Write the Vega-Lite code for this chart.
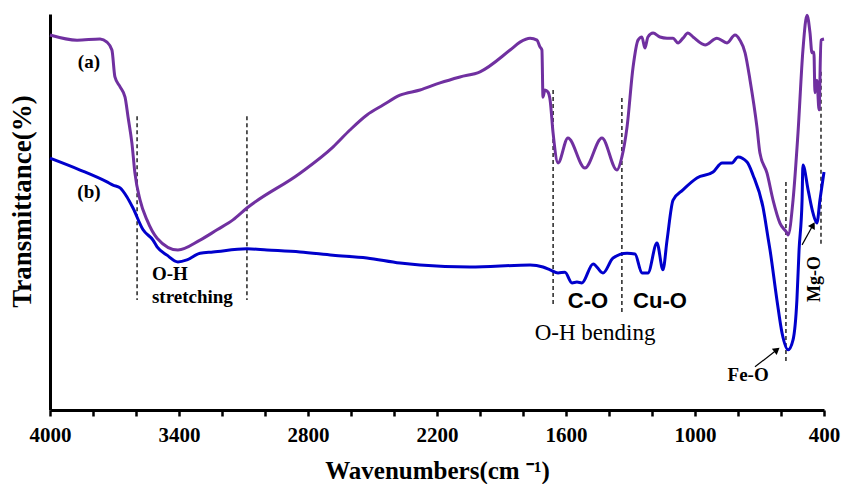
{
  "$schema": "https://vega.github.io/schema/vega-lite/v6.json",
  "width": 774,
  "height": 396,
  "autosize": {"type": "none"},
  "padding": {"left": 50, "top": 14, "right": 18, "bottom": 74},
  "background": "white",
  "config": {"view": {"stroke": null}, "font": "Liberation Serif"},
  "datasets": {
    "spectra": [
      {"s":"a","wn":4000,"t":94.7},{"s":"a","wn":3874,"t":93.4},{"s":"a","wn":3767,"t":93.7},{"s":"a","wn":3735,"t":92.9},{"s":"a","wn":3712,"t":90.9},{"s":"a","wn":3698,"t":84.1},{"s":"a","wn":3674,"t":81.6},{"s":"a","wn":3651,"t":79.0},{"s":"a","wn":3637,"t":74.0},{"s":"a","wn":3619,"t":67.4},{"s":"a","wn":3605,"t":59.8},{"s":"a","wn":3581,"t":53.0},{"s":"a","wn":3549,"t":48.0},{"s":"a","wn":3502,"t":43.4},{"s":"a","wn":3405,"t":40.4},{"s":"a","wn":3302,"t":42.9},{"s":"a","wn":3223,"t":45.5},{"s":"a","wn":3149,"t":48.0},{"s":"a","wn":3084,"t":51.0},{"s":"a","wn":2837,"t":59.8},{"s":"a","wn":2684,"t":66.4},{"s":"a","wn":2605,"t":70.7},{"s":"a","wn":2526,"t":74.5},{"s":"a","wn":2451,"t":77.0},{"s":"a","wn":2372,"t":79.5},{"s":"a","wn":2279,"t":80.8},{"s":"a","wn":2186,"t":82.6},{"s":"a","wn":2093,"t":84.1},{"s":"a","wn":2000,"t":85.4},{"s":"a","wn":1860,"t":90.9},{"s":"a","wn":1814,"t":92.9},{"s":"a","wn":1767,"t":93.9},{"s":"a","wn":1735,"t":93.4},{"s":"a","wn":1721,"t":91.7},{"s":"a","wn":1712,"t":90.9},{"s":"a","wn":1707,"t":79.0},{"s":"a","wn":1698,"t":80.8},{"s":"a","wn":1684,"t":80.3},{"s":"a","wn":1674,"t":78.3},{"s":"a","wn":1660,"t":69.9},{"s":"a","wn":1637,"t":62.4},{"s":"a","wn":1591,"t":68.7},{"s":"a","wn":1512,"t":61.1},{"s":"a","wn":1433,"t":68.7},{"s":"a","wn":1363,"t":60.6},{"s":"a","wn":1340,"t":63.9},{"s":"a","wn":1316,"t":71.5},{"s":"a","wn":1288,"t":86.6},{"s":"a","wn":1265,"t":93.4},{"s":"a","wn":1247,"t":94.2},{"s":"a","wn":1233,"t":91.4},{"s":"a","wn":1219,"t":94.2},{"s":"a","wn":1195,"t":95.2},{"s":"a","wn":1163,"t":94.2},{"s":"a","wn":1130,"t":93.9},{"s":"a","wn":1102,"t":93.9},{"s":"a","wn":1079,"t":92.7},{"s":"a","wn":1056,"t":93.9},{"s":"a","wn":1033,"t":95.2},{"s":"a","wn":1009,"t":94.2},{"s":"a","wn":953,"t":92.2},{"s":"a","wn":898,"t":93.9},{"s":"a","wn":851,"t":92.7},{"s":"a","wn":814,"t":94.7},{"s":"a","wn":791,"t":93.4},{"s":"a","wn":767,"t":90.2},{"s":"a","wn":744,"t":83.3},{"s":"a","wn":712,"t":71.5},{"s":"a","wn":698,"t":64.9},{"s":"a","wn":665,"t":59.8},{"s":"a","wn":637,"t":53.0},{"s":"a","wn":605,"t":47.2},{"s":"a","wn":572,"t":44.7},{"s":"a","wn":567,"t":44.2},{"s":"a","wn":544,"t":53.0},{"s":"a","wn":521,"t":69.9},{"s":"a","wn":498,"t":90.9},{"s":"a","wn":479,"t":99.7},{"s":"a","wn":465,"t":95.2},{"s":"a","wn":456,"t":90.2},{"s":"a","wn":447,"t":90.4},{"s":"a","wn":442,"t":80.1},{"s":"a","wn":433,"t":83.3},{"s":"a","wn":423,"t":75.8},{"s":"a","wn":414,"t":93.4},{"s":"a","wn":400,"t":93.7},
      {"s":"b","wn":4000,"t":63.6},{"s":"b","wn":3860,"t":60.6},{"s":"b","wn":3735,"t":57.6},{"s":"b","wn":3707,"t":56.8},{"s":"b","wn":3674,"t":56.1},{"s":"b","wn":3642,"t":53.8},{"s":"b","wn":3614,"t":51.0},{"s":"b","wn":3567,"t":45.5},{"s":"b","wn":3521,"t":42.9},{"s":"b","wn":3502,"t":41.2},{"s":"b","wn":3456,"t":39.1},{"s":"b","wn":3405,"t":37.4},{"s":"b","wn":3363,"t":37.9},{"s":"b","wn":3302,"t":39.6},{"s":"b","wn":3242,"t":39.9},{"s":"b","wn":3084,"t":40.7},{"s":"b","wn":2991,"t":40.4},{"s":"b","wn":2837,"t":39.9},{"s":"b","wn":2684,"t":39.1},{"s":"b","wn":2526,"t":38.4},{"s":"b","wn":2372,"t":37.1},{"s":"b","wn":2279,"t":36.6},{"s":"b","wn":2047,"t":36.1},{"s":"b","wn":1767,"t":36.6},{"s":"b","wn":1707,"t":36.1},{"s":"b","wn":1674,"t":35.4},{"s":"b","wn":1637,"t":34.6},{"s":"b","wn":1605,"t":34.8},{"s":"b","wn":1572,"t":32.1},{"s":"b","wn":1549,"t":32.3},{"s":"b","wn":1526,"t":32.1},{"s":"b","wn":1474,"t":36.9},{"s":"b","wn":1428,"t":34.6},{"s":"b","wn":1381,"t":38.4},{"s":"b","wn":1316,"t":39.6},{"s":"b","wn":1279,"t":39.4},{"s":"b","wn":1247,"t":34.6},{"s":"b","wn":1219,"t":34.6},{"s":"b","wn":1177,"t":42.2},{"s":"b","wn":1149,"t":35.4},{"s":"b","wn":1130,"t":42.9},{"s":"b","wn":1102,"t":53.0},{"s":"b","wn":1056,"t":55.6},{"s":"b","wn":991,"t":58.6},{"s":"b","wn":916,"t":60.1},{"s":"b","wn":874,"t":62.4},{"s":"b","wn":828,"t":62.4},{"s":"b","wn":800,"t":63.9},{"s":"b","wn":758,"t":62.6},{"s":"b","wn":730,"t":59.3},{"s":"b","wn":684,"t":51.3},{"s":"b","wn":660,"t":43.4},{"s":"b","wn":651,"t":40.4},{"s":"b","wn":619,"t":27.8},{"s":"b","wn":595,"t":19.4},{"s":"b","wn":567,"t":15.2},{"s":"b","wn":544,"t":17.7},{"s":"b","wn":526,"t":27.8},{"s":"b","wn":516,"t":40.4},{"s":"b","wn":502,"t":53.0},{"s":"b","wn":498,"t":61.9},{"s":"b","wn":474,"t":55.6},{"s":"b","wn":451,"t":49.7},{"s":"b","wn":433,"t":47.2},{"s":"b","wn":419,"t":53.0},{"s":"b","wn":400,"t":60.1}
    ],
    "markers": [
      {"wn":3595,"top":74.2,"bottom":27.8},
      {"wn":3084,"top":74.2,"bottom":27.8},
      {"wn":1660,"top":80.8,"bottom":26.5},
      {"wn":1340,"top":78.8,"bottom":24.5},
      {"wn":577,"top":57.6,"bottom":11.9},
      {"wn":414,"top":85.4,"bottom":41.2}
    ],
    "arrows": [
      {"note":"Fe-O","wn0":721,"t0":10.9,"wn1":619,"t1":15.2},
      {"note":"Mg-O","wn0":502,"t0":41.7,"wn1":451,"t1":46.7}
    ],
    "notes": [
      {"text":"(a)","wn":3819,"t":87.9,"kind":"sample"},
      {"text":"(b)","wn":3819,"t":55.1,"kind":"sample"},
      {"text":"O-H","wn":3526,"t":34.3,"kind":"stretch"},
      {"text":"stretching","wn":3526,"t":28.6,"kind":"stretch"},
      {"text":"C-O","wn":1498,"t":27.5,"kind":"group"},
      {"text":"Cu-O","wn":1163,"t":27.5,"kind":"group"},
      {"text":"O-H bending","wn":1465,"t":19.4,"kind":"bending"},
      {"text":"Fe-O","wn":753,"t":8.8,"kind":"peak"},
      {"text":"Mg-O","wn":442,"t":33.1,"kind":"vertical"}
    ]
  },
  "layer": [
    {
      "data": {"name": "markers"},
      "mark": {"type": "rule", "color": "black", "strokeWidth": 1.3, "strokeDash": [4, 3]},
      "encoding": {
        "x": {"field": "wn", "type": "quantitative", "scale": {"domain": [400, 4000], "reverse": true, "nice": false, "zero": false},
          "axis": {
            "values": [4000,3800,3600,3400,3200,3000,2800,2600,2400,2200,2000,1800,1600,1400,1200,1000,800,600,400],
            "labelExpr": "(4000 - datum.value) % 600 == 0 ? datum.value : ''",
            "labelFont": "Liberation Serif", "labelFontSize": 21, "labelFontWeight": "bold", "labelColor": "black",
            "labelPadding": 8, "labelOverlap": false, "labelFlush": false,
            "domainColor": "black", "domainWidth": 3, "tickColor": "black", "tickWidth": 2.5, "tickSize": 6,
            "grid": false,
            "title": "Wavenumbers(cm ⁻¹)", "titleFont": "Liberation Serif", "titleFontSize": 25, "titleFontWeight": "bold", "titleColor": "black", "titlePadding": 13
          }},
        "y": {"field": "top", "type": "quantitative", "scale": {"domain": [0, 100], "nice": false},
          "axis": {
            "labels": false, "ticks": false, "grid": false,
            "domainColor": "black", "domainWidth": 3,
            "title": "Transmittance(%)", "titleFont": "Liberation Serif", "titleFontSize": 27, "titleFontWeight": "bold", "titleColor": "black", "titlePadding": 14, "titleY": 187
          }},
        "y2": {"field": "bottom"}
      }
    },
    {
      "data": {"name": "spectra"},
      "mark": {"type": "line", "strokeWidth": 3, "interpolate": "monotone"},
      "encoding": {
        "x": {"field": "wn", "type": "quantitative"},
        "y": {"field": "t", "type": "quantitative"},
        "color": {"field": "s", "type": "nominal", "scale": {"domain": ["a", "b"], "range": ["#7030A0", "#0000CC"]}, "legend": null}
      }
    },
    {
      "data": {"name": "arrows"},
      "mark": {"type": "rule", "color": "black", "strokeWidth": 1.2},
      "encoding": {
        "x": {"field": "wn0", "type": "quantitative"},
        "x2": {"field": "wn1"},
        "y": {"field": "t0", "type": "quantitative"},
        "y2": {"field": "t1"}
      }
    },
    {
      "data": {"name": "arrows"},
      "transform": [{"filter": "datum.note == 'Fe-O'"}],
      "mark": {"type": "point", "shape": "triangle-up", "filled": true, "color": "black", "size": 60, "angle": 52, "opacity": 1},
      "encoding": {
        "x": {"field": "wn1", "type": "quantitative"},
        "y": {"field": "t1", "type": "quantitative"}
      }
    },
    {
      "data": {"name": "arrows"},
      "transform": [{"filter": "datum.note == 'Mg-O'"}],
      "mark": {"type": "point", "shape": "triangle-up", "filled": true, "color": "black", "size": 60, "angle": 29, "opacity": 1},
      "encoding": {
        "x": {"field": "wn1", "type": "quantitative"},
        "y": {"field": "t1", "type": "quantitative"}
      }
    },
    {
      "data": {"name": "notes"},
      "transform": [{"filter": "datum.kind == 'sample' || datum.kind == 'peak'"}],
      "mark": {"type": "text", "font": "Liberation Serif", "fontWeight": "bold", "fontSize": 19, "align": "center", "baseline": "middle", "color": "black"},
      "encoding": {
        "x": {"field": "wn", "type": "quantitative"},
        "y": {"field": "t", "type": "quantitative"},
        "text": {"field": "text"}
      }
    },
    {
      "data": {"name": "notes"},
      "transform": [{"filter": "datum.kind == 'stretch'"}],
      "mark": {"type": "text", "font": "Liberation Serif", "fontWeight": "bold", "fontSize": 19, "align": "left", "baseline": "middle", "color": "black"},
      "encoding": {
        "x": {"field": "wn", "type": "quantitative"},
        "y": {"field": "t", "type": "quantitative"},
        "text": {"field": "text"}
      }
    },
    {
      "data": {"name": "notes"},
      "transform": [{"filter": "datum.kind == 'group'"}],
      "mark": {"type": "text", "font": "Liberation Sans", "fontWeight": "bold", "fontSize": 22, "align": "center", "baseline": "middle", "color": "black"},
      "encoding": {
        "x": {"field": "wn", "type": "quantitative"},
        "y": {"field": "t", "type": "quantitative"},
        "text": {"field": "text"}
      }
    },
    {
      "data": {"name": "notes"},
      "transform": [{"filter": "datum.kind == 'bending'"}],
      "mark": {"type": "text", "font": "Liberation Serif", "fontSize": 23, "align": "center", "baseline": "middle", "color": "black"},
      "encoding": {
        "x": {"field": "wn", "type": "quantitative"},
        "y": {"field": "t", "type": "quantitative"},
        "text": {"field": "text"}
      }
    },
    {
      "data": {"name": "notes"},
      "transform": [{"filter": "datum.kind == 'vertical'"}],
      "mark": {"type": "text", "font": "Liberation Serif", "fontWeight": "bold", "fontSize": 18, "align": "center", "baseline": "middle", "angle": 270, "color": "black"},
      "encoding": {
        "x": {"field": "wn", "type": "quantitative"},
        "y": {"field": "t", "type": "quantitative"},
        "text": {"field": "text"}
      }
    }
  ]
}
